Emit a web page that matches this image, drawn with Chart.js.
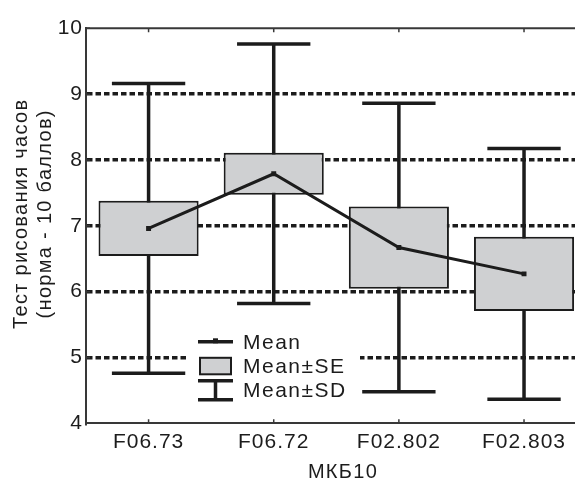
<!DOCTYPE html>
<html>
<head>
<meta charset="utf-8">
<script src="https://cdn.jsdelivr.net/npm/chart.js@4"></script>
<style>
  html, body { margin: 0; padding: 0; background: #fff; overflow: hidden; }
  canvas { display: block; }
</style>
</head>
<body>
<canvas id="myChart" width="600" height="481"></canvas>
<script>
// Clock drawing test by ICD-10 group: mean line, mean±SE box, mean±SD whiskers
const categories = ['F06.73', 'F06.72', 'F02.802', 'F02.803'];
const means = [6.96, 7.79, 6.67, 6.27];
const se = [0.42, 0.32, 0.625, 0.565];
const sd = [2.2, 1.97, 2.19, 1.905];
const yTicks = [4, 5, 6, 7, 8, 9, 10];
const yTitle = ['Тест рисования часов', '(норма - 10 баллов)'];
const xTitle = 'МКБ10';
const legendLabels = ['Mean', 'Mean±SE', 'Mean±SD'];

const INK = '#1c1c1c';
const AXIS = '#383838';
const BOX = '#cfd0d2';
const FAMILY = '"Liberation Sans", Arial, Helvetica, sans-serif';

// wider glyph spacing for all canvas text
const spacing = {
  id: 'spacing',
  beforeUpdate(chart) { chart.ctx.letterSpacing = '1px'; },
  beforeDraw(chart) { chart.ctx.letterSpacing = '1px'; }
};

// top frame line and small inward ticks
const frame = {
  id: 'frame',
  beforeDatasetsDraw(chart) {
    const { ctx, chartArea: a, scales: { x, y } } = chart;
    ctx.save();
    ctx.strokeStyle = AXIS;
    ctx.lineWidth = 2;
    ctx.beginPath();
    ctx.moveTo(a.left - 1, a.top);
    ctx.lineTo(chart.width, a.top);
    ctx.stroke();
    ctx.lineWidth = 1.5;
    ctx.beginPath();
    categories.forEach((c, i) => {
      const px = x.getPixelForValue(i);
      ctx.moveTo(px, a.top); ctx.lineTo(px, a.top + 4);
      ctx.moveTo(px, a.bottom); ctx.lineTo(px, a.bottom - 4);
    });
    yTicks.forEach(v => {
      const py = y.getPixelForValue(v);
      ctx.moveTo(a.left, py); ctx.lineTo(a.left + 4, py);
    });
    ctx.stroke();
    ctx.restore();
  }
};

// mean±SD whiskers, drawn under the SE boxes
const whiskers = {
  id: 'whiskers',
  beforeDatasetsDraw(chart) {
    const { ctx, scales: { x, y } } = chart;
    const band = x.getPixelForValue(1) - x.getPixelForValue(0);
    const half = band * 0.293;
    ctx.save();
    ctx.strokeStyle = INK;
    ctx.lineWidth = 3.5;
    means.forEach((m, i) => {
      const cx = x.getPixelForValue(i);
      const top = y.getPixelForValue(m + sd[i]);
      const bot = y.getPixelForValue(m - sd[i]);
      ctx.beginPath();
      ctx.moveTo(cx, top); ctx.lineTo(cx, bot);
      ctx.moveTo(cx - half, top); ctx.lineTo(cx + half, top);
      ctx.moveTo(cx - half, bot); ctx.lineTo(cx + half, bot);
      ctx.stroke();
    });
    ctx.restore();
  }
};

// legend inside the plot
const boxLegend = {
  id: 'boxLegend',
  afterDatasetsDraw(chart) {
    const { ctx, chartArea: a } = chart;
    const left = a.left + 102, top = a.top + 290;
    const sx = left + 10, sw = 35, mid = sx + sw / 2;
    const rows = [top + 23.5, top + 47.5, top + 72];
    ctx.save();
    ctx.fillStyle = '#fff';
    ctx.fillRect(left, top, 172, 87);

    ctx.strokeStyle = INK;
    ctx.fillStyle = INK;
    ctx.lineWidth = 3.5;
    ctx.beginPath();
    ctx.moveTo(sx, rows[0]); ctx.lineTo(sx + sw, rows[0]);
    ctx.stroke();
    ctx.fillRect(mid - 2.5, rows[0] - 3.5, 5, 5);

    ctx.fillStyle = BOX;
    ctx.lineWidth = 2;
    ctx.fillRect(sx + 2, rows[1] - 8, sw - 4, 16.5);
    ctx.strokeRect(sx + 2, rows[1] - 8, sw - 4, 16.5);

    ctx.lineWidth = 3.5;
    ctx.beginPath();
    ctx.moveTo(sx, rows[2] - 9.5); ctx.lineTo(sx + sw, rows[2] - 9.5);
    ctx.moveTo(mid, rows[2] - 9.5); ctx.lineTo(mid, rows[2] + 9.5);
    ctx.moveTo(sx, rows[2] + 9.5); ctx.lineTo(sx + sw, rows[2] + 9.5);
    ctx.stroke();

    ctx.letterSpacing = '1.5px';
    ctx.fillStyle = INK;
    ctx.font = '21px ' + FAMILY;
    ctx.textAlign = 'left';
    ctx.textBaseline = 'middle';
    legendLabels.forEach((t, i) => ctx.fillText(t, sx + sw + 10, rows[i] + 1));
    ctx.restore();
  }
};

// axis titles
const axisTitles = {
  id: 'axisTitles',
  afterDraw(chart) {
    const { ctx, chartArea: a } = chart;
    ctx.save();
    ctx.letterSpacing = '1.3px';
    ctx.fillStyle = INK;
    ctx.font = '20px ' + FAMILY;
    ctx.textAlign = 'center';
    ctx.textBaseline = 'middle';
    ctx.fillText(xTitle, a.left + 257, chart.height - 9);
    ctx.translate(21, (a.top + a.bottom) / 2 - 12);
    ctx.rotate(-Math.PI / 2);
    ctx.fillText(yTitle[0], 0, 0);
    ctx.fillText(yTitle[1], 0, 24);
    ctx.restore();
  }
};

const ctx = document.getElementById('myChart').getContext('2d');

new Chart(ctx, {
  data: {
    labels: categories,
    datasets: [
      {
        type: 'line',
        label: 'Mean',
        data: means,
        borderColor: INK,
        borderWidth: 3,
        pointStyle: 'rect',
        pointRadius: 3.5,
        pointBackgroundColor: INK,
        pointBorderWidth: 0,
        order: 1
      },
      {
        type: 'bar',
        label: 'Mean±SE',
        data: means.map((m, i) => [m - se[i], m + se[i]]),
        backgroundColor: BOX,
        borderColor: INK,
        borderWidth: 2,
        borderSkipped: false,
        barPercentage: 0.8,
        categoryPercentage: 1,
        order: 2
      }
    ]
  },
  options: {
    responsive: false,
    animation: false,
    layout: { padding: { top: 28.3, right: 13.4, left: 0, bottom: 0 } },
    plugins: { legend: { display: false }, tooltip: { enabled: false } },
    scales: {
      x: {
        type: 'category',
        offset: true,
        grid: { display: false, drawTicks: false },
        border: { color: AXIS, width: 2 },
        ticks: {
          color: INK,
          font: { family: FAMILY, size: 21 },
          padding: 6,
          maxRotation: 0,
          autoSkip: false
        },
        afterFit: s => { s.height = 57.7; }
      },
      y: {
        min: 4,
        max: 10,
        afterBuildTicks: s => { s.ticks = yTicks.map(v => ({ value: v })); },
        grid: {
          color: c => (c.tick && (c.tick.value === 4 || c.tick.value === 10)) ? 'rgba(0,0,0,0)' : INK,
          lineWidth: 3.5,
          drawTicks: false
        },
        border: { color: AXIS, width: 2, dash: [5.5, 3] },
        ticks: {
          color: INK,
          font: { family: FAMILY, size: 21 },
          padding: 3
        },
        afterFit: s => { s.width = 86; }
      }
    }
  },
  plugins: [spacing, frame, whiskers, boxLegend, axisTitles]
});
</script>
</body>
</html>
